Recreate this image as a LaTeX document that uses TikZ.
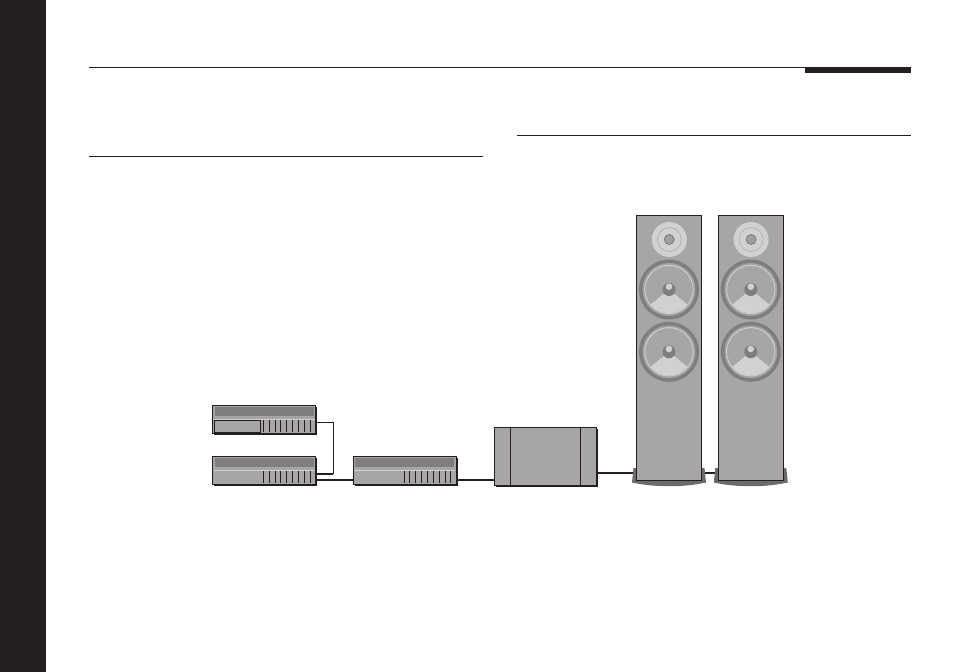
\documentclass[tikz,border=0pt]{standalone}
\usepackage{tikz}
\usetikzlibrary{positioning, shadows}
\definecolor{inkblack}{HTML}{231F20}
\definecolor{bodygray}{HTML}{A7A5A6}
\definecolor{darkgray}{HTML}{7F7D7E}
\definecolor{palegray}{HTML}{D2D1D1}
\tikzset{
    shadowed/.style={draw=inkblack, line width=1pt, fill=bodygray, inner sep=0pt, outer sep=0pt,
        drop shadow={shadow xshift=1.6pt, shadow yshift=-1.6pt, fill=inkblack, opacity=1}},
    unitbox/.style={shadowed, minimum width=103pt, minimum height=28.5pt},
    ampbox/.style={shadowed, minimum width=102.5pt, minimum height=58pt},
    speakerbox/.style={draw=inkblack, line width=1pt, fill=bodygray, inner sep=0pt, outer sep=0pt,
        minimum width=65.5pt, minimum height=265pt},
    rule/.style={draw=inkblack, line width=0.9pt},
    cable/.style={draw=inkblack, line width=1.8pt},
    thincable/.style={draw=inkblack, line width=1pt}
}
\begin{document}
\begin{tikzpicture}[x=1pt, y=-1pt]
    \useasboundingbox (0,0) rectangle (954,672);

    % Black band and page rules
    \fill[inkblack] (0,0) rectangle (46,672);
    \draw[rule] (89,67.6) -- (911,67.6);
    \fill[inkblack] (805,67.2) rectangle (911,73);
    \draw[rule] (89,156) -- (483,156);
    \draw[rule] (517,135) -- (911,135);

    % Speaker stands, under the cabinets
    \foreach \spk/\cx in {speakerl/669, speakerr/750.8} {
        \fill[darkgray!80!inkblack] (\cx-37,482.5) -- (\cx-35.5,468) -- (\cx+35.5,468) -- (\cx+37,482.5)
            .. controls (\cx+15,487.5) and (\cx-15,487.5) .. (\cx-37,482.5);
        \coordinate (\spk west) at (\cx-36,473.3);
        \coordinate (\spk east) at (\cx+36,473.3);
    }

    % Boxes
    \node[unitbox] (tuner) at (264,419.3) {};
    \node[unitbox] (player) at (264,470.6) {};
    \node[unitbox] (preamp) at (404.7,470.6) {};
    \node[ampbox] (amp) at (545.5,456.3) {};
    \node[speakerbox] (speakerl) at (669,348) {};
    \node[speakerbox] (speakerr) at (750.8,348) {};

    % Front panels of the three units
    \foreach \unit in {tuner, player, preamp} {
        \begin{scope}[shift={(\unit.north west)}]
            \fill[darkgray] (2,2) rectangle (101,11);
            \draw[palegray, line width=1pt] (1,14.3) -- (102,14.3);
            \foreach \tick in {0,...,8} {
                \draw[inkblack, line width=0.8pt] (50.8+5.85*\tick,14.8) -- (50.8+5.85*\tick,27);
            }
        \end{scope}
    }
    \draw[inkblack, line width=1pt] ([shift={(1.5,15.8)}]tuner.north west) rectangle ++(46,12);

    % Dividers of the amplifier
    \draw[inkblack, line width=0.8pt] ([xshift=16pt]amp.north west) -- ([xshift=16pt]amp.south west);
    \draw[inkblack, line width=0.8pt] ([xshift=-16pt]amp.north east) -- ([xshift=-16pt]amp.south east);

    % Tweeter and woofers
    \foreach \spk in {speakerl, speakerr} {
        \begin{scope}[shift={(\spk.north)}]
            \fill[palegray] (0.3,24) circle (17.5);
            \draw[bodygray, line width=0.5pt] (0.3,24) circle (12);
            \draw[inkblack!70, line width=0.5pt, fill=bodygray!80!darkgray] (0.3,24) circle (5);
            \foreach \wy in {74, 136.3} {
                \fill[darkgray] (0,\wy) circle (30);
                \fill[bodygray!90!darkgray] (0,\wy) circle (26.5);
                \draw[palegray, line width=0.9pt, fill=bodygray] (0,\wy) circle (24.2);
                \fill[palegray] (0,\wy) -- (-18.4,\wy+15) arc[start angle=220, end angle=320, radius=24pt] -- cycle;
                \fill[darkgray] (0,\wy) circle (6.5);
                \fill[palegray] (0,\wy-2.8) circle (3.3);
            }
        \end{scope}
    }

    % Connections
    \draw[thincable] ([yshift=-3.2pt]tuner.east) -- ++(18,0) |- ([yshift=-3pt]player.east);
    \draw[cable] ([yshift=-3pt]player.east) -- ++(17,0);
    \draw[cable] ([yshift=-9.4pt]player.east) -- ([yshift=-9.4pt]preamp.west);
    \draw[cable] ([yshift=-9.4pt]preamp.east) -- ([yshift=-23.7pt]amp.west);
    \draw[cable] (amp.east |- speakerlwest) -- (speakerlwest);
    \draw[cable] (speakerleast) -- (speakerrwest);
\end{tikzpicture}
\end{document}
